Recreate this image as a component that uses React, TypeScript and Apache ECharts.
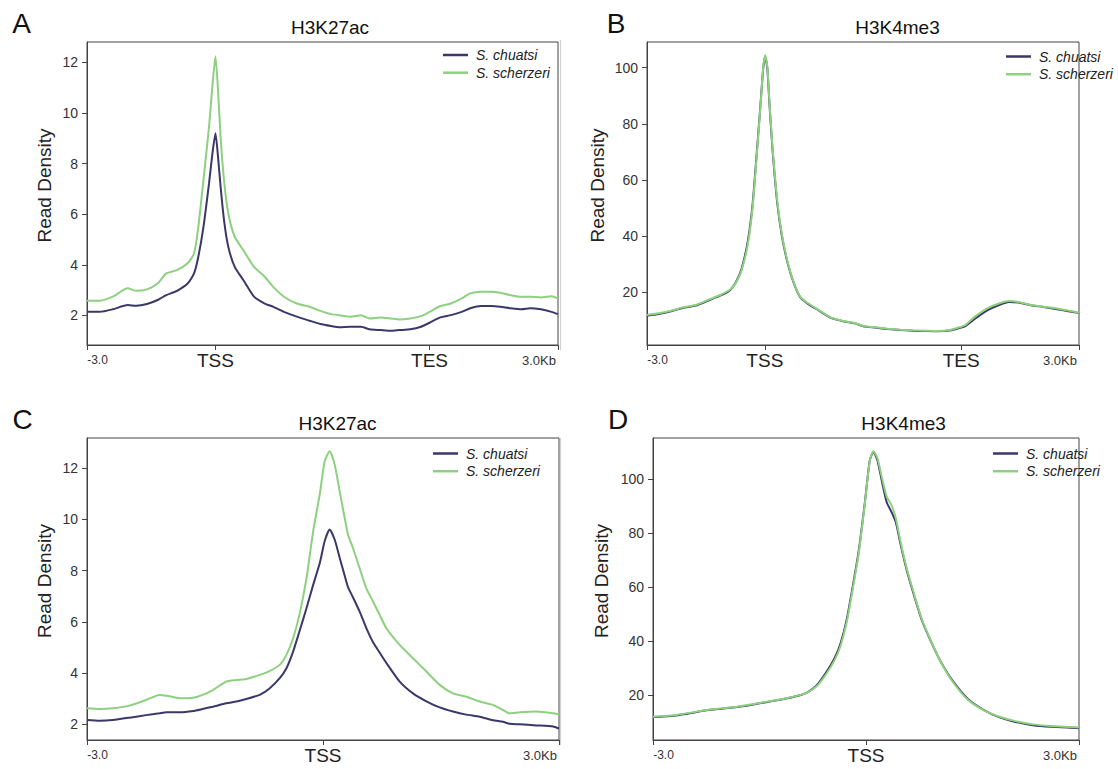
import React, { useEffect, useRef } from "react";
import * as echarts from "echarts";

const FONT = "'Liberation Sans', Arial, Helvetica, sans-serif";
const DARK = "#393869";
const GREEN = "#8dd07f";
const AXIS = "#444444";
const SERIES_NAMES = ["S. chuatsi", "S. scherzeri"];

// x ticks (bp from start of region for scale-regions, bp from TSS for reference-point)
const xTicksAB = [0, 3000, 8000, 11000];
const xLabelsAB = ["-3.0", "TSS", "TES", "3.0Kb"];
const xTicksCD = [-3000, 0, 3000];
const xLabelsCD = ["-3.0", "TSS", "3.0Kb"];

const yTicksA = [2, 4, 6, 8, 10, 12];
const yTicksB = [20, 40, 60, 80, 100];
const yTicksC = [2, 4, 6, 8, 10, 12];
const yTicksD = [20, 40, 60, 80, 100];

// Panel A: H3K27ac, scale-regions
const posA = [0, 300, 600, 950, 1150, 1400, 1650, 1850, 2100, 2350, 2500, 2600, 2720, 2850, 2920, 3000, 3060, 3120, 3200, 3300, 3450, 3650, 3900, 4150, 4350, 4600, 4900, 5200, 5450, 5700, 5900, 6150, 6400, 6600, 6850, 7100, 7300, 7550, 7800, 8000, 8250, 8500, 8750, 8950, 9200, 9450, 9650, 9900, 10150, 10350, 10600, 10850, 11000];
const aChuatsi = [2.14, 2.14, 2.24, 2.41, 2.38, 2.45, 2.61, 2.8, 2.97, 3.26, 3.66, 4.32, 5.5, 7.22, 8.27, 9.2, 8.27, 7.09, 5.77, 4.71, 3.92, 3.4, 2.74, 2.47, 2.34, 2.14, 1.95, 1.79, 1.66, 1.58, 1.53, 1.55, 1.55, 1.45, 1.42, 1.39, 1.42, 1.45, 1.55, 1.71, 1.92, 2.01, 2.14, 2.28, 2.37, 2.37, 2.34, 2.28, 2.24, 2.28, 2.24, 2.14, 2.05];
const aScherzeri = [2.58, 2.58, 2.74, 3.07, 2.97, 3.03, 3.26, 3.66, 3.79, 4.06, 4.45, 5.5, 7.35, 9.46, 10.9, 12.25, 10.9, 9.06, 7.35, 6.03, 5.11, 4.58, 3.92, 3.53, 3.13, 2.74, 2.47, 2.34, 2.18, 2.05, 2.01, 1.95, 2.01, 1.88, 1.92, 1.88, 1.84, 1.88, 1.97, 2.14, 2.37, 2.47, 2.67, 2.87, 2.94, 2.94, 2.9, 2.8, 2.74, 2.74, 2.71, 2.76, 2.67];

// Panel B: H3K4me3, scale-regions
const posB = [0, 300, 610, 925, 1240, 1550, 1865, 2100, 2255, 2410, 2570, 2690, 2805, 2900, 2960, 3010, 3065, 3115, 3195, 3315, 3430, 3590, 3745, 3900, 4100, 4370, 4685, 5000, 5310, 5500, 5815, 6130, 6450, 6765, 7080, 7400, 7715, 7955, 8110, 8350, 8665, 8980, 9220, 9455, 9775, 10090, 10405, 10725, 11000];
const bChuatsi = [11.7, 12.3, 13.3, 14.5, 15.3, 17.0, 18.8, 20.6, 23.4, 28.5, 38.5, 51.5, 71.5, 88.8, 99.8, 103.9, 99.6, 87.6, 71.0, 52.0, 40.4, 29.9, 23.0, 18.3, 15.9, 13.6, 10.9, 9.7, 8.9, 7.95, 7.45, 6.95, 6.6, 6.35, 6.22, 6.12, 6.4, 7.3, 8.0, 10.6, 13.6, 15.6, 16.6, 16.4, 15.4, 14.8, 14.1, 13.3, 12.6];
const bScherzeri = [11.94, 12.53, 13.48, 14.67, 15.5, 17.27, 19.05, 20.83, 23.2, 27.9, 37.4, 50.5, 70.6, 88.4, 100.2, 104.4, 100.2, 88.4, 71.8, 52.8, 41.0, 30.3, 23.2, 18.46, 16.1, 13.7, 11.0, 9.8, 9.0, 8.03, 7.56, 7.08, 6.73, 6.49, 6.37, 6.25, 6.6, 7.56, 8.39, 11.35, 14.3, 16.1, 16.9, 16.56, 15.5, 14.9, 14.3, 13.5, 12.77];

// Panel C: H3K27ac, reference-point (TSS)
const posC = [-3000, -2840, -2670, -2460, -2250, -2080, -1990, -1820, -1650, -1530, -1400, -1230, -1100, -975, -805, -680, -550, -465, -380, -300, -210, -125, -40, 21, 85, 149, 212, 276, 318, 382, 466, 551, 636, 720, 805, 975, 1144, 1314, 1483, 1653, 1822, 1992, 2161, 2288, 2373, 2500, 2712, 2924, 3000];
const cChuatsi = [2.17, 2.14, 2.17, 2.26, 2.36, 2.43, 2.47, 2.47, 2.52, 2.6, 2.69, 2.82, 2.89, 2.99, 3.15, 3.4, 3.8, 4.19, 4.84, 5.62, 6.53, 7.44, 8.3, 9.14, 9.6, 9.2, 8.5, 7.8, 7.35, 6.95, 6.4, 5.75, 5.2, 4.8, 4.4, 3.67, 3.21, 2.9, 2.66, 2.5, 2.38, 2.3, 2.16, 2.1, 2.02, 2.0, 1.96, 1.92, 1.84];
const cScherzeri = [2.63, 2.6, 2.63, 2.73, 2.95, 3.15, 3.12, 3.02, 3.04, 3.15, 3.34, 3.67, 3.73, 3.77, 3.93, 4.08, 4.32, 4.71, 5.36, 6.27, 7.7, 9.53, 11.0, 12.26, 12.65, 12.13, 11.09, 10.05, 9.4, 8.87, 8.09, 7.3, 6.79, 6.27, 5.75, 5.1, 4.58, 4.06, 3.54, 3.21, 3.08, 2.89, 2.76, 2.56, 2.43, 2.47, 2.5, 2.43, 2.39];

// Panel D: H3K4me3, reference-point (TSS)
const posD = [-3000, -2850, -2675, -2460, -2245, -2030, -1815, -1605, -1390, -1175, -960, -830, -700, -570, -440, -355, -270, -185, -100, -13, 52, 104, 160, 225, 290, 355, 420, 485, 572, 680, 789, 919, 1049, 1222, 1439, 1655, 1872, 2089, 2349, 2609, 2955, 3000];
const dChuatsi = [11.8, 12.0, 12.4, 13.3, 14.3, 14.9, 15.5, 16.4, 17.4, 18.4, 19.7, 20.9, 23.4, 28.0, 33.8, 39.4, 48.2, 60.5, 73.8, 92.0, 106.8, 110.0, 107.0, 99.0, 91.5, 88.0, 84.0, 76.0, 66.4, 56.6, 47.5, 39.6, 32.5, 25.2, 18.4, 14.5, 11.8, 10.1, 8.8, 8.2, 7.8, 7.7];
const dScherzeri = [11.96, 12.2, 12.58, 13.45, 14.44, 15.05, 15.67, 16.54, 17.53, 18.52, 19.75, 20.87, 23.1, 27.4, 33.0, 38.5, 47.2, 59.6, 73.0, 91.7, 106.6, 110.3, 107.8, 100.4, 93.6, 90.5, 85.5, 76.9, 67.0, 57.1, 47.8, 39.8, 32.4, 24.9, 18.1, 14.4, 12.0, 10.4, 9.1, 8.5, 8.0, 7.9];

type Panel = {
  letter: string;
  title: string;
  grid: { left: number; top: number; width: number; height: number };
  xMin: number;
  xMax: number;
  xTicks: number[];
  xLabels: string[];
  yMin: number;
  yMax: number;
  yTicks: number[];
  nameGap: number;
  pos: number[];
  chuatsi: number[];
  scherzeri: number[];
  titleX: number;
  titleY: number;
  letterX: number;
  letterY: number;
  legendLeft: number;
  legendTop: number;
};

const panels: Panel[] = [
  {
    letter: "A", title: "H3K27ac",
    grid: { left: 87, top: 42, width: 471, height: 303 },
    xMin: 0, xMax: 11000, xTicks: xTicksAB, xLabels: xLabelsAB,
    yMin: 0.83, yMax: 12.81, yTicks: yTicksA, nameGap: 33,
    pos: posA, chuatsi: aChuatsi, scherzeri: aScherzeri,
    titleX: 330, titleY: 27, letterX: 21.5, letterY: 23.5,
    legendLeft: 443, legendTop: 47.5,
  },
  {
    letter: "B", title: "H3K4me3",
    grid: { left: 647, top: 42, width: 465, height: 303 },
    xMin: 0, xMax: 11000, xTicks: xTicksAB, xLabels: xLabelsAB,
    yMin: 1.26, yMax: 109.1, yTicks: yTicksB, nameGap: 40,
    pos: posB, chuatsi: bChuatsi, scherzeri: bScherzeri,
    titleX: 897.5, titleY: 27, letterX: 616, letterY: 23.5,
    legendLeft: 1006, legendTop: 49,
  },
  {
    letter: "C", title: "H3K27ac",
    grid: { left: 87, top: 438, width: 472, height: 302 },
    xMin: -3000, xMax: 3000, xTicks: xTicksCD, xLabels: xLabelsCD,
    yMin: 1.39, yMax: 13.17, yTicks: yTicksC, nameGap: 33,
    pos: posC, chuatsi: cChuatsi, scherzeri: cScherzeri,
    titleX: 337.5, titleY: 423.5, letterX: 22.7, letterY: 419,
    legendLeft: 433, legendTop: 446,
  },
  {
    letter: "D", title: "H3K4me3",
    grid: { left: 653, top: 438, width: 464, height: 302 },
    xMin: -3000, xMax: 3000, xTicks: xTicksCD, xLabels: xLabelsCD,
    yMin: 3.31, yMax: 115.2, yTicks: yTicksD, nameGap: 42,
    pos: posD, chuatsi: dChuatsi, scherzeri: dScherzeri,
    titleX: 903.6, titleY: 423.5, letterX: 618, letterY: 419,
    legendLeft: 993, legendTop: 446,
  },
];

function buildOption() {
  const grid: any[] = [];
  const xAxis: any[] = [];
  const yAxis: any[] = [];
  const series: any[] = [];
  const legend: any[] = [];
  const graphic: any[] = [];

  panels.forEach((p, i) => {
    grid.push({
      ...p.grid,
      show: true,
      borderColor: AXIS,
      borderWidth: 1,
      backgroundColor: "transparent",
    });
    const last = p.xTicks.length - 1;
    xAxis.push({
      gridIndex: i,
      type: "value",
      min: p.xMin,
      max: p.xMax,
      axisLine: { show: true, onZero: false, lineStyle: { color: AXIS, width: 1 } },
      axisTick: { show: true, length: 5, customValues: p.xTicks, lineStyle: { color: AXIS } },
      splitLine: { show: false },
      axisLabel: {
        customValues: p.xTicks,
        margin: 4,
        formatter: (v: number) => {
          const k = p.xTicks.indexOf(v);
          if (k < 0) return "";
          const style = k === 0 ? "f" : k === last ? "l" : "m";
          return `{${style}|${p.xLabels[k]}}`;
        },
        rich: {
          f: { fontSize: 12, fontFamily: FONT, color: "#333", lineHeight: 22, padding: [0, 0, 0, 21] },
          m: { fontSize: 19, fontFamily: FONT, color: "#222", lineHeight: 22 },
          l: { fontSize: 13, fontFamily: FONT, color: "#333", lineHeight: 22, padding: [0, 38, 0, 0] },
        },
      },
    });
    yAxis.push({
      gridIndex: i,
      type: "value",
      min: p.yMin,
      max: p.yMax,
      axisLine: { show: true, onZero: false, lineStyle: { color: AXIS, width: 1 } },
      axisTick: { show: true, length: 5, customValues: p.yTicks, lineStyle: { color: AXIS } },
      splitLine: { show: false },
      axisLabel: {
        customValues: p.yTicks,
        margin: 9,
        fontSize: 14,
        fontFamily: FONT,
        color: "#333",
      },
      name: "Read Density",
      nameLocation: "middle",
      nameGap: p.nameGap,
      nameTextStyle: { fontSize: 19, fontFamily: FONT, color: "#222", padding: [0, 0, 0, 16] },
    });
    series.push({
      type: "line",
      name: SERIES_NAMES[0],
      xAxisIndex: i,
      yAxisIndex: i,
      data: p.pos.map((x, k) => [x, p.chuatsi[k]]),
      showSymbol: false,
      symbol: "none",
      smooth: 0.2,
      color: DARK,
      lineStyle: { width: 2, color: DARK },
      silent: true,
      z: 2,
    });
    series.push({
      type: "line",
      name: SERIES_NAMES[1],
      xAxisIndex: i,
      yAxisIndex: i,
      data: p.pos.map((x, k) => [x, p.scherzeri[k]]),
      showSymbol: false,
      symbol: "none",
      smooth: 0.2,
      color: GREEN,
      lineStyle: { width: 2, color: GREEN },
      silent: true,
      z: 3,
    });
    legend.push({
      data: SERIES_NAMES,
      orient: "vertical",
      left: p.legendLeft,
      top: p.legendTop,
      icon: "rect",
      itemWidth: 25,
      itemHeight: 2.5,
      itemGap: 2.7,
      padding: 0,
      selectedMode: false,
      textStyle: {
        fontSize: 14,
        fontStyle: "italic",
        fontFamily: FONT,
        color: "#222",
        lineHeight: 15,
        padding: [0, 0, 0, 3],
      },
    });
    graphic.push({
      type: "text",
      x: p.titleX,
      y: p.titleY,
      style: {
        text: p.title,
        fontSize: 19,
        fontFamily: FONT,
        fill: "#111",
        align: "center",
        verticalAlign: "middle",
        textAlign: "center",
        textVerticalAlign: "middle",
      },
    });
    graphic.push({
      type: "text",
      x: p.letterX,
      y: p.letterY,
      style: {
        text: p.letter,
        fontSize: 28,
        fontFamily: FONT,
        fill: "#111",
        align: "center",
        verticalAlign: "middle",
        textAlign: "center",
        textVerticalAlign: "middle",
      },
    });
  });

  graphic.push({
    type: "line",
    shape: { x1: 560.5, y1: 40, x2: 560.5, y2: 350 },
    style: { stroke: "#d0d0d0", lineWidth: 1 },
  });
  graphic.push({
    type: "line",
    shape: { x1: 560.5, y1: 438, x2: 560.5, y2: 745 },
    style: { stroke: "#d0d0d0", lineWidth: 1 },
  });

  return {
    animation: false,
    backgroundColor: "#ffffff",
    textStyle: { fontFamily: FONT },
    grid,
    xAxis,
    yAxis,
    series,
    legend,
    graphic,
  };
}

export default function App() {
  const ref = useRef<HTMLDivElement>(null);
  useEffect(() => {
    if (!ref.current) return;
    const chart = echarts.init(ref.current, undefined, { renderer: "svg" });
    chart.setOption(buildOption() as any);
    return () => chart.dispose();
  }, []);
  return (
    <div
      ref={ref}
      style={{ position: "absolute", left: 0, top: 0, width: 1118, height: 769, background: "#fff" }}
    />
  );
}
